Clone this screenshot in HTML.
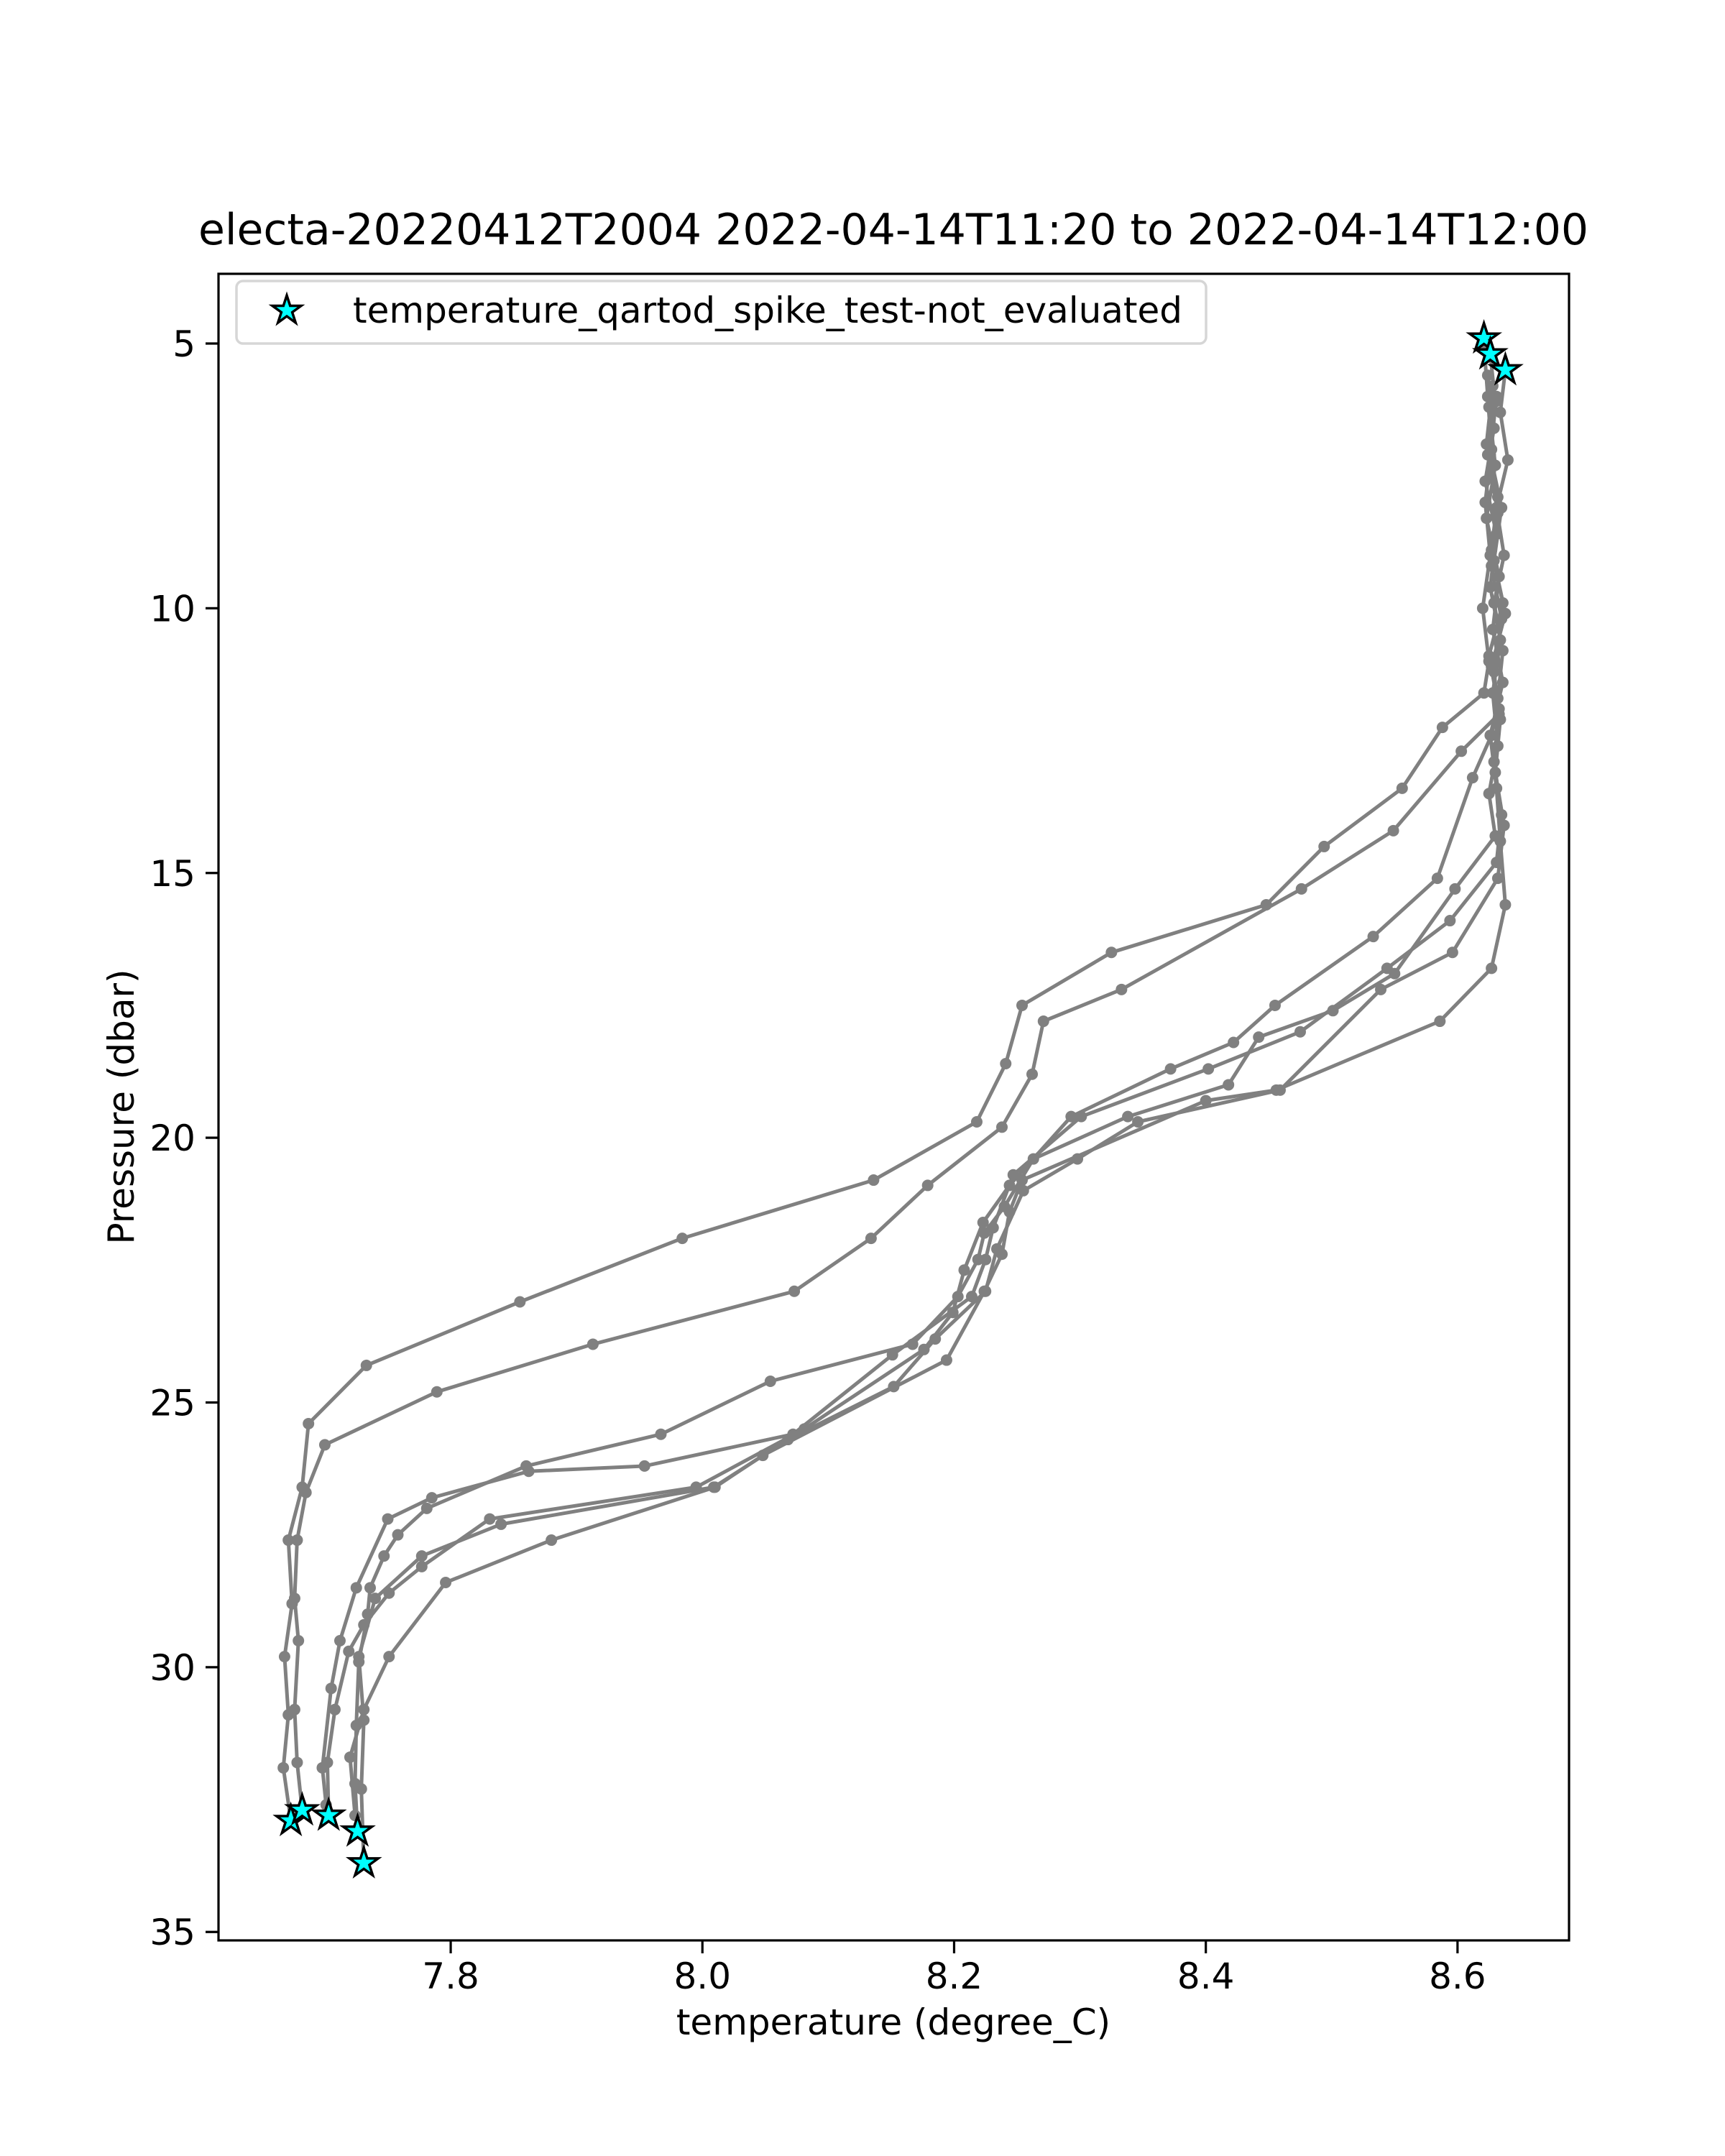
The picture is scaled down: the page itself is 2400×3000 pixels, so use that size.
<!DOCTYPE html>
<html><head><meta charset="utf-8">
<style>
html,body{margin:0;padding:0;background:#fff;}
svg{display:block;font-family:"DejaVu Sans","Liberation Sans",sans-serif;}
</style></head>
<body>
<svg id="chart" width="2400" height="3000" viewBox="0 0 2400 3000" xmlns="http://www.w3.org/2000/svg">
<rect width="2400" height="3000" fill="#fff"/>
<text x="1243" y="340" font-size="60" text-anchor="middle">electa-20220412T2004 2022-04-14T11:20 to 2022-04-14T12:00</text>
<g id="marks"></g>
<rect x="304" y="381" width="1879" height="2319" fill="none" stroke="#000" stroke-width="3.2"/>
<g id="axes"></g>
<text x="1243" y="2831" font-size="50" text-anchor="middle">temperature (degree_C)</text>
<text x="0" y="0" font-size="50" text-anchor="middle" transform="translate(186,1540) rotate(-90)">Pressure (dbar)</text>
<g>
<rect x="329" y="391" width="1349" height="87" rx="9" fill="#fff" fill-opacity="0.8" stroke="#d6d6d6" stroke-width="3.5"/>
<path id="legstar" fill="#00ffff" stroke="#000" stroke-width="3.5"/>
<text x="491" y="449" font-size="50">temperature_qartod_spike_test-not_evaluated</text>
</g>
</svg>
<script>
const xTicks = [7.8, 8.0, 8.2, 8.4, 8.6];
const xTickLabels = ["7.8", "8.0", "8.2", "8.4", "8.6"];
const yTicks = [5, 10, 15, 20, 25, 30, 35];
const yTickLabels = ["5", "10", "15", "20", "25", "30", "35"];

const castTemps = [
 [8.621,8.624,8.627,8.622,8.626,8.620,8.625,8.621,8.588,8.556,8.494,8.448,8.325,8.254,8.241,8.218,8.136,7.984,7.855,7.733,7.687,7.682,7.671,7.674,7.668,7.671,7.667,7.673],
 [8.626,8.630,8.624,8.632,8.627,8.635,8.629,8.633,8.603,8.549,8.476,8.333,8.271,8.262,8.238,8.179,8.134,8.073,7.913,7.789,7.700,7.685,7.678,7.676,7.679,7.676,7.678,7.682],
 [8.638,8.634,8.640,8.631,8.637,8.629,8.636,8.632,8.627,8.612,8.584,8.533,8.455,8.422,8.372,8.293,8.244,8.223,8.208,8.199,8.176,8.081,7.995,7.831,7.777,7.751,7.731,7.719,7.708,7.702,7.703],
 [8.624,8.629,8.622,8.631,8.626,8.634,8.628,8.632,8.625,8.630,8.598,8.550,8.501,8.442,8.418,8.338,8.263,8.240,8.224,8.219,8.203,8.167,8.054,7.967,7.860,7.781,7.758,7.747,7.736,7.734,7.727,7.725,7.724,7.726],
 [8.628,8.623,8.632,8.627,8.636,8.625,8.633,8.629,8.635,8.631,8.594,8.544,8.475,8.402,8.301,8.247,8.231,8.225,8.214,8.151,8.072,7.954,7.862,7.785,7.750,7.725,7.712,7.705,7.698,7.701],
 [8.631,8.626,8.635,8.629,8.638,8.627,8.634,8.630,8.637,8.632,8.596,8.539,8.459,8.346,8.298,8.255,8.234,8.225,8.185,8.152,8.068,8.009,7.840,7.777,7.740,7.727,7.731,7.729,7.731],
 [8.625,8.630,8.623,8.633,8.628,8.636,8.626,8.631,8.634,8.638,8.627,8.586,8.456,8.400,8.254,8.244,8.238,8.224,8.194,8.048,8.010,7.880,7.796,7.751,7.731,7.720,7.724]
];
const castPres = [
 [5.0,6.0,7.0,8.0,9.0,10.0,11.0,11.6,12.25,13.4,14.5,15.6,16.5,17.5,18.6,19.7,20.8,21.9,23.1,24.3,25.4,26.6,27.6,28.8,29.8,30.9,31.9,32.9],
 [5.2,6.1,7.1,8.2,9.2,10.2,11.2,12.0,12.7,14.2,15.3,17.2,17.8,18.8,19.8,20.9,21.9,22.9,23.9,24.8,25.8,26.7,27.6,28.7,29.5,30.8,31.8,32.7],
 [5.5,6.3,7.2,8.1,9.0,9.9,10.8,11.7,12.4,13.2,15.1,16.2,17.5,18.2,18.7,19.6,20.9,21.6,22.5,23.3,24.0,25.5,26.6,27.2,28.1,28.6,29.2,29.7,30.8,31.8,32.8],
 [5.6,6.6,7.6,8.6,9.6,10.6,11.6,12.6,13.5,14.3,15.3,16.9,17.6,18.1,19.0,19.6,20.4,21.3,21.8,22.3,23.0,23.9,24.6,25.6,26.2,27.0,27.5,27.9,28.5,29.0,29.9,31.1,32.2,33.1],
 [5.8,6.9,7.9,8.9,9.9,10.9,11.9,12.9,13.9,14.8,15.9,16.8,18.0,18.7,19.6,20.7,21.7,22.3,23.0,24.1,25.6,26.2,26.3,26.8,27.2,28.5,29.5,30.4,31.9,32.6],
 [6.0,7.1,8.1,9.1,10.1,11.1,12.1,13.1,14.1,15.1,16.5,17.2,19.1,19.7,20.4,21.0,22.1,22.9,23.8,24.7,25.7,26.6,27.3,27.9,28.7,29.8,31.0,32.3,33.7],
 [6.2,7.3,8.3,9.4,10.4,11.4,12.4,13.4,14.4,15.6,16.8,17.8,19.1,19.3,20.8,21.4,22.2,22.9,24.2,26.0,26.6,27.6,28.4,29.8,30.8,31.7,32.8]
];
const flagTemps = [8.621, 8.626, 8.638, 7.673, 7.682, 7.703, 7.726, 7.731];
const flagPres = [4.9, 5.2, 5.5, 32.9, 32.7, 32.8, 33.1, 33.7];

const X0 = 304, X1 = 2183, Y0 = 381, Y1 = 2700;
const xMin = 7.6155, xMax = 8.6886, yMin = 3.683, yMax = 35.16;
function xScale(v){ return X0 + (v - xMin) / (xMax - xMin) * (X1 - X0); }
function yScale(v){ return Y0 + (v - yMin) / (yMax - yMin) * (Y1 - Y0); }
const NS = "http://www.w3.org/2000/svg";
function mk(tag, attrs){ const e = document.createElementNS(NS, tag); for (const k in attrs) e.setAttribute(k, attrs[k]); return e; }
function starPath(cx, cy, R){
  const r = R * 0.382; let d = "";
  for (let i = 0; i < 10; i++){
    const rad = i % 2 ? r : R; const a = -Math.PI/2 + i * Math.PI/5;
    d += (i ? "L" : "M") + (cx + rad*Math.cos(a)).toFixed(1) + "," + (cy + rad*Math.sin(a)).toFixed(1);
  }
  return d + "Z";
}
const marks = document.getElementById("marks");
castTemps.forEach((temps, i) => {
  const pres = castPres[i];
  const pts = temps.map((t, j) => xScale(t).toFixed(1) + "," + yScale(pres[j]).toFixed(1)).join(" ");
  const line = mk("polyline", {points: pts, fill: "none", stroke: "#808080", "stroke-width": 5, "stroke-linejoin": "round"});
  
  
  marks.appendChild(line);
  temps.forEach((t, j) => {
    const c = mk("circle", {cx: xScale(t), cy: yScale(pres[j]), r: 8, fill: "#808080"});
    
    
    marks.appendChild(c);
  });
});
flagTemps.forEach((t, i) => {
  const s = mk("path", {d: starPath(xScale(t), yScale(flagPres[i]), 21), fill: "#00ffff", stroke: "#000", "stroke-width": 3.5, "stroke-linejoin": "miter"});
  
  
  marks.appendChild(s);
});
document.getElementById("legstar").setAttribute("d", starPath(399, 432, 21));
const axes = document.getElementById("axes");
xTicks.forEach((v, i) => {
  const x = xScale(v);
  const tk = mk("line", {x1: x, x2: x, y1: Y1, y2: Y1 + 18, stroke: "#000", "stroke-width": 3.2});
  
  
  axes.appendChild(tk);
  const tx = mk("text", {x: x, y: 2767, "font-size": 50, "text-anchor": "middle"});
  tx.textContent = xTickLabels[i];
  
  
  axes.appendChild(tx);
});
yTicks.forEach((v, i) => {
  const y = yScale(v);
  const tk = mk("line", {x1: X0 - 18, x2: X0, y1: y, y2: y, stroke: "#000", "stroke-width": 3.2});
  
  
  axes.appendChild(tk);
  const tx = mk("text", {x: 272, y: y + 18, "font-size": 50, "text-anchor": "end"});
  tx.textContent = yTickLabels[i];
  
  
  axes.appendChild(tx);
});
</script>
</body></html>
